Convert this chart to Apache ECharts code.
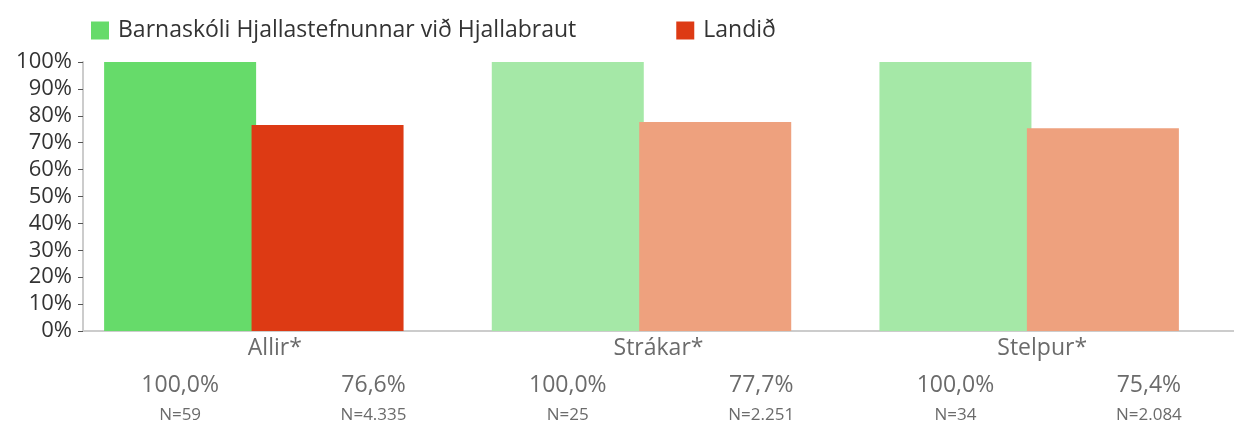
<!DOCTYPE html>
<html>
<head>
<meta charset="utf-8">
<script src="https://cdn.jsdelivr.net/npm/echarts@6/dist/echarts.min.js"></script>
<style>
html,body{margin:0;padding:0;background:#fff;}
#chart{width:1234px;height:424px;}
</style>
</head>
<body>
<div id="chart"></div>
<script>
const categories = ['Allir*', 'Strákar*', 'Stelpur*'];
const seriesNames = ['Barnaskóli Hjallastefnunnar við Hjallabraut', 'Landið'];
const schoolValues = [100.0, 100.0, 100.0];
const countryValues = [76.6, 77.7, 75.4];
const schoolN = [59, 25, 34];
const countryN = [4335, 2251, 2084];
const yTicks = [0, 10, 20, 30, 40, 50, 60, 70, 80, 90, 100];

const FONT = '"Open Sans", Lato, sans-serif';
const strong = ['#66DB6A', '#DD3A14'];
const light = ['#A5E8A7', '#EEA17E'];

function fmtPct(v) { return v.toFixed(1).replace('.', ',') + '%'; }
function fmtN(n) { return 'N=' + String(n).replace(/\B(?=(\d{3})+(?!\d))/g, '.'); }

function buildData(values, sIdx) {
  return values.map((v, i) => ({
    value: v,
    itemStyle: { color: i === 0 ? strong[sIdx] : light[sIdx] }
  }));
}

function labelCfg(values, ns, dx) {
  return {
    show: true,
    position: 'bottom',
    distance: 39,
    offset: [dx, 0],
    fontFamily: FONT,
    formatter: p => '{v|' + fmtPct(values[p.dataIndex]) + '}\n{n|' + fmtN(ns[p.dataIndex]) + '}',
    rich: {
      v: { fontSize: 23, color: '#6b6b6b', lineHeight: 30, fontFamily: FONT, align: 'center' },
      n: { fontSize: 17, color: '#6b6b6b', lineHeight: 30, fontFamily: FONT, align: 'center' }
    }
  };
}

const chart = echarts.init(document.getElementById('chart'), null, { renderer: 'canvas' });
chart.setOption({
  animation: false,
  backgroundColor: '#fff',
  legend: {
    left: 91,
    top: 19,
    padding: 0,
    icon: 'rect',
    itemWidth: 18,
    itemHeight: 18,
    itemGap: 100,
    textStyle: { fontSize: 23, color: '#333', fontFamily: FONT, padding: [0, 0, 0, 4] },
    data: [
      { name: seriesNames[0], itemStyle: { color: strong[0] } },
      { name: seriesNames[1], itemStyle: { color: strong[1] } }
    ]
  },
  grid: [
    { left: 60, right: 11, top: 62, bottom: 93 },
    { left: 83, right: 0, top: 62, bottom: 93 }
  ],
  xAxis: [
    { type: 'category', gridIndex: 0, data: categories, show: false },
    {
      type: 'category', gridIndex: 1, data: categories,
      axisLine: { show: true, lineStyle: { color: '#cccccc', width: 2 } },
      axisTick: { show: false },
      axisLabel: { fontSize: 23, color: '#6b6b6b', fontFamily: FONT, margin: 6 }
    }
  ],
  yAxis: [
    { type: 'value', gridIndex: 0, min: 0, max: 100, show: false },
    {
      type: 'value', gridIndex: 1, min: yTicks[0], max: yTicks[yTicks.length - 1], interval: 10,
      splitLine: { show: false },
      axisLine: { show: true, lineStyle: { color: '#cccccc', width: 2 } },
      axisTick: { show: true, length: 5, lineStyle: { color: '#555', width: 1 } },
      axisLabel: { fontSize: 22, color: '#333', fontFamily: FONT, margin: 11, formatter: '{value}%' }
    }
  ],
  series: [
    {
      name: seriesNames[0], type: 'bar', xAxisIndex: 0, yAxisIndex: 0,
      barWidth: 152, barGap: '-3%',
      data: buildData(schoolValues, 0),
      label: labelCfg(schoolValues, schoolN, 0)
    },
    {
      name: seriesNames[1], type: 'bar', xAxisIndex: 0, yAxisIndex: 0,
      barWidth: 152, barGap: '-3%',
      data: buildData(countryValues, 1),
      label: labelCfg(countryValues, countryN, 46)
    }
  ]
});
</script>
</body>
</html>
